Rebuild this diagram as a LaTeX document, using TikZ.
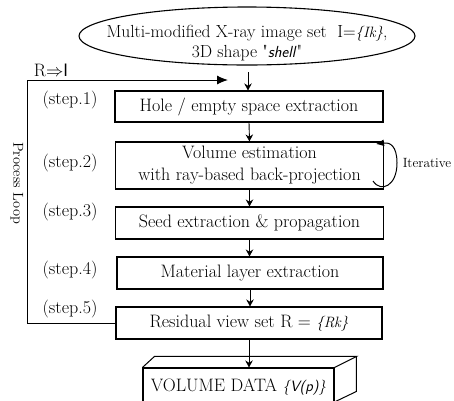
\documentclass[tikz,border=0pt]{standalone}
\usetikzlibrary{arrows.meta,shapes.geometric}
\begin{document}
\begin{tikzpicture}[x=1pt,y=-1pt,
  txt/.style={font=\fontsize{18}{22}\selectfont},
  stepbox/.style={draw,line width=1.1pt,txt,minimum height=31pt,inner sep=0pt,minimum width=268pt},
  arr/.style={-{Stealth[length=7pt,width=7.5pt]},line width=0.9pt},
  ln/.style={line width=1pt}]
\useasboundingbox (0,0) rectangle (454,400);
\clip (0,0) rectangle (454,400);

\node[ellipse,draw,line width=1.1pt,minimum width=336pt,minimum height=58pt,inner sep=0pt] (in) at (247,36) {};
\node[font=\fontsize{17.5}{20}\selectfont,align=center] (intxt) at (247,43)
  {Multi-modified X-ray image set\ \ I={\fontsize{15}{20}\selectfont\textit{\{Ik\}}},\\3D shape \textquotedbl{\fontsize{16}{20}\selectfont\textsf{\textit{shell}}}\textquotedbl};

\node[stepbox] (s1) at (249,106.5) {Hole / empty space extraction};
\node[stepbox,minimum height=47pt,align=center] (s2) at (249.5,165.5) {Volume estimation\\with ray-based back-projection};
\node[stepbox,minimum height=32pt] (s3) at (249.5,223) {Seed extraction \& propagation};
\node[stepbox,minimum width=266pt,minimum height=32pt] (s4) at (250,273) {Material layer extraction};
\node[stepbox,minimum width=266pt,minimum height=32pt] (s5) at (249,323) {Residual view set R = {\fontsize{15}{20}\selectfont\textit{\{Rk\}}}};

\node[txt] (l1) at (70,100) {(step.1)};
\node[txt] (l2) at (70,163) {(step.2)};
\node[txt] (l3) at (70,212) {(step.3)};
\node[txt] (l4) at (70,270) {(step.4)};
\node[txt] (l5) at (70,309) {(step.5)};

\node[font=\fontsize{14.4}{16}\selectfont,rotate=-90] (pl) at (17,183) {Process Loop};
\node[txt] (ri) at (51,70) {R$\Rightarrow$\textsf{I}};
\node[font=\fontsize{13.4}{16}\selectfont] (it) at (427,163) {Iterative};

\node[draw,line width=1.1pt,minimum width=191pt,minimum height=38pt,inner sep=0pt,txt] (vol) at (238.5,387)
  {VOLUME DATA {\fontsize{15}{20}\selectfont\textsf{\textit{\{V(p)\}}}}};
\draw[ln] (vol.north west) -- ++(12,-11) coordinate (va) -- ++(202,0) coordinate (vb) -- (vol.north east);
\draw[ln] (vb) -- ++(0,35) coordinate (vc) -- ++(-23,11);

\coordinate (inb) at (248,72);
\draw[arr] (inb) -- (inb |- s1.north);
\draw[arr] (s1.south) -- (s2.north);
\draw[arr] (s2.south) -- (s3.north);
\draw[arr] (s3.south) -- (s3.south |- s4.north);
\draw[arr] (s4.south) -- (s4.south |- s5.north);
\draw[arr] (s5.south) -- (s5.south |- vol.north);

\coordinate (lc) at (228,80);
\coordinate (c1) at (27,80);
\draw[ln,-{Latex[length=11pt,width=9pt]}] (s5.west) -| (c1) -- (lc);

\coordinate (ia) at (373,181);
\coordinate (ib) at (376,144);
\draw[ln,-{Latex[length=8pt,width=7pt]}] (ia) .. controls (381,193) and (397,186) .. (397,163) .. controls (397,146) and (390,142) .. (ib);
\end{tikzpicture}
\end{document}
